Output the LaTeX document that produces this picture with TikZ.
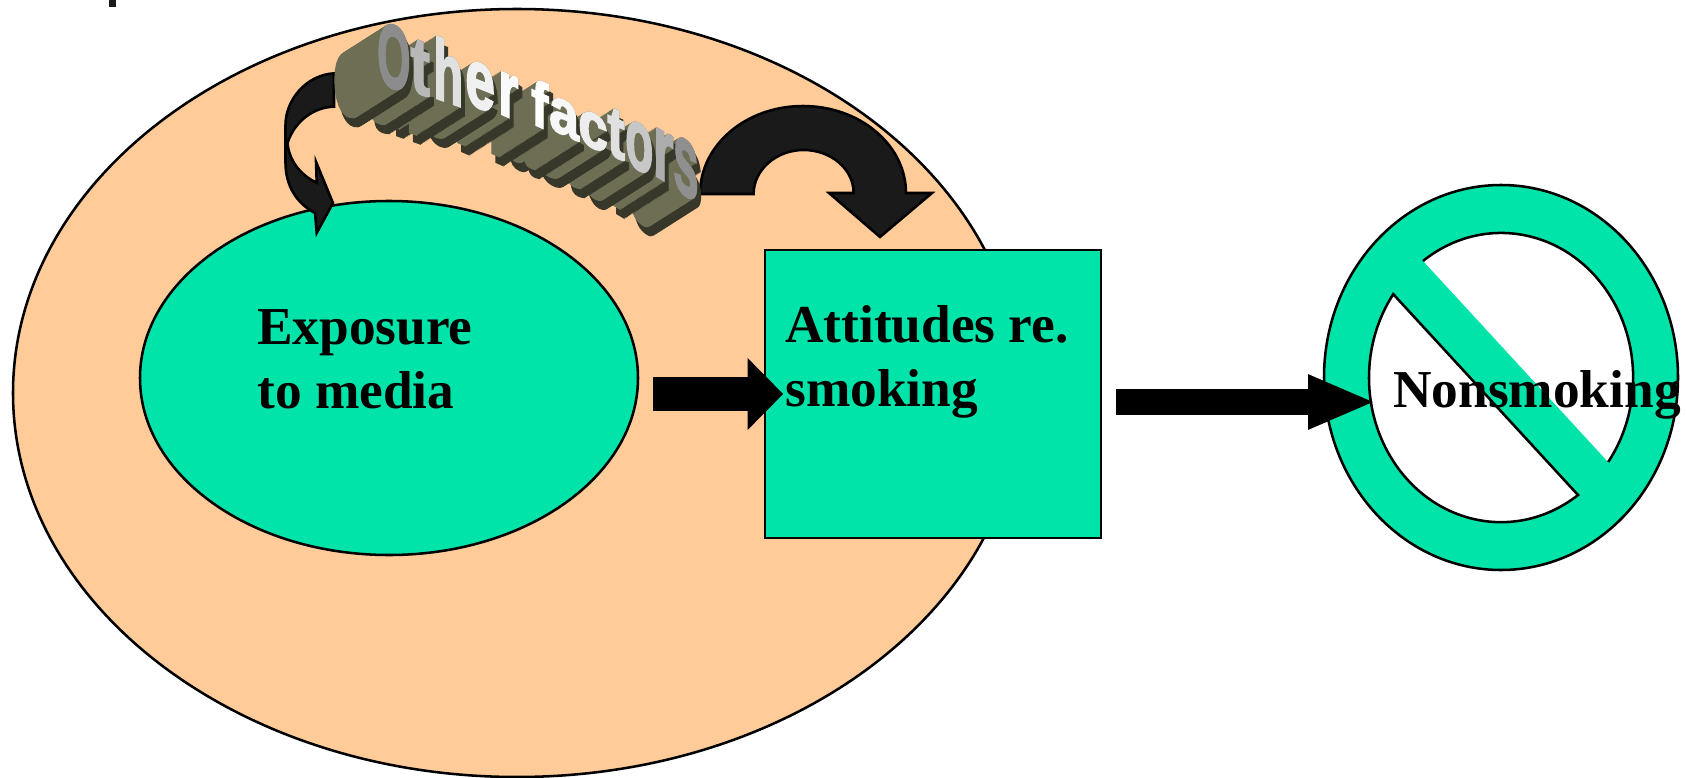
\documentclass[tikz,border=0pt]{standalone}
\usepackage{fontspec}
\setmainfont{Liberation Serif}
\newfontfamily\artfont[BoldFeatures={FakeBold=2.5}]{Liberation Sans}
\usetikzlibrary{arrows.meta, shapes.geometric}
\definecolor{peach}{HTML}{FFCC99}
\definecolor{mint}{HTML}{00E4AA}
\definecolor{soot}{HTML}{1A1A1A}
\definecolor{olive}{HTML}{6E6E55}
\definecolor{olivedark}{HTML}{37372A}
\tikzset{
  outline/.style={draw=black, line width=1.9pt},
  label/.style={inner sep=0pt, anchor=base west, align=left, font=\fontsize{40}{48}\selectfont\bfseries},
  bigarrow/.style={-{Triangle[length=26.8pt, width=52.5pt]}, line width=26pt},
  longarrow/.style={-{Triangle[length=51pt, width=37.5pt]}, line width=19.5pt},
  curlarrow/.style={outline, fill=soot, line join=miter},
  artletter/.style={inner sep=0pt, anchor=base west, font=\fontsize{40}{40}\selectfont\artfont\bfseries}
}
% letter / left / baseline / x scale / y scale / slant / grey (last letter first)
\def\letterlist{s/673/186/.85/1.9/.7/56, r/653/174/.97/1.7/.6/68, o/625/162/.86/1.6/.55/78,
  t/607/153/1/1.35/.45/88, c/578/141/1/1.2/.45/93, a/549/128/1/1.2/.45/97,
  f/531/123/.96/1.2/.45/100, r/498/112.5/.97/1.5/.45/98, e/465/102/1/1.55/.4/94,
  h/433/97/.92/1.6/.35/88, t/410/90/1.1/1.5/.35/72, O/377/83/.8/1.68/.3/55}
\begin{document}
\begin{tikzpicture}[x=.75pt, y=-.75pt]
\useasboundingbox (0,0) rectangle (1686,778);
\coordinate (backdrop) at (517,393);
\coordinate (nosign) at (1501,377.5);
% Stray mark at the top
\fill[soot] (109,0) rectangle (116,7);
% Draw backdrop
\draw[outline, fill=peach] (backdrop) circle [x radius=504, y radius=384];
% Draw boxes
\node[ellipse, outline, fill=mint, inner sep=0pt, minimum width=373.5pt, minimum height=265.5pt] (exposure) at (389,378) {};
\node[rectangle, outline, fill=mint, inner sep=0pt, minimum width=252pt, minimum height=216pt] (attitudes) at (933,394) {};
% Draw no-entry sign
\path[fill=mint, even odd rule] (nosign) circle [x radius=177, y radius=192.5] (nosign) circle [x radius=132, y radius=144.5];
\fill[mint] (1411,248) -- (1620,475) -- (1590,508) -- (1381,281) -- cycle;
\draw[outline] (nosign) circle [x radius=177, y radius=192.5];
\draw[outline] (1423,261) arc [start angle=-126.3, end angle=35.8, x radius=132, y radius=144.5];
\draw[outline] (1578,495) arc [start angle=54.3, end angle=215.3, x radius=132, y radius=144.5] -- cycle;
% Curled arrows
\draw[curlarrow] (334,73.3) .. controls (306,75) and (285.5,100) .. (285.5,125) -- (285.5,163)
  .. controls (285.5,185) and (296,203) .. (315,213) -- (316.7,233) -- (333,203) -- (316,161.7) -- (316.7,182.7)
  .. controls (300,175) and (289,160) .. (287.5,143) .. controls (295,120) and (315,107) .. (334,106.7) -- cycle;
\draw[curlarrow] (700,194) .. controls (700,145) and (746,106) .. (803,106) .. controls (860,106) and (906,145) .. (906,193)
  -- (932,193) -- (880,237) -- (829,193) -- (853.6,193)
  .. controls (853.6,169) and (831,150) .. (803.6,150) .. controls (776,150) and (753.6,170) .. (753.6,194) -- cycle;
% Other factors, depth first
\foreach \ch/\px/\py/\sx/\sy/\sl/\gr [count=\n] in \letterlist {
  \foreach \d in {1,.975,...,0} {
    \node[artletter, text=olivedark, yslant=-\sl, xscale=\sx, yscale=\sy] at (\px-44*\d+4, \py+28*\d+9) {\ch};
  }
  \foreach \d in {1,.975,...,0} {
    \node[artletter, text=olive, yslant=-\sl, xscale=\sx, yscale=\sy] at (\px-44*\d, \py+28*\d) {\ch};
  }
}
\foreach \ch/\px/\py/\sx/\sy/\sl/\gr [count=\n] in \letterlist {
  \node[artletter, text=white!\gr!black, yslant=-\sl, xscale=\sx, yscale=\sy] (front\n) at (\px,\py) {\ch};
}
% Straight arrows
\draw[bigarrow] ([shift={(14,16)}]exposure.east) -- ([shift={(19.5,0)}]attitudes.west);
\draw[longarrow] ([shift={(14,8)}]attitudes.east) -- ([shift={(-125,24.5)}]nosign);
% Labels
\node[label] (exposuretext) at (257,408.6) {Exposure\\to media};
\node[label] (attitudestext) at (785,406.7) {Attitudes re.\\smoking};
\node[label] (nonsmoking) at (1393,407) {Nonsmoking};
\end{tikzpicture}
\end{document}
